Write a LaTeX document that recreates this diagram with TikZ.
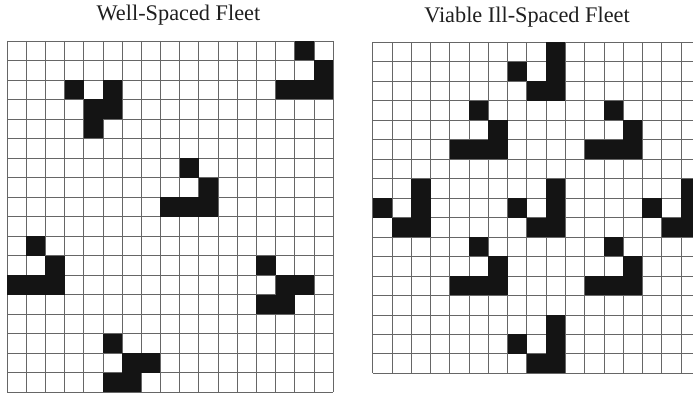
\documentclass[tikz,border=0pt]{standalone}
\usepackage{fontspec}
\setmainfont{Liberation Serif}
\begin{document}
\begin{tikzpicture}[x=1pt,y=-1pt,
  gridline/.style={draw=black!60,line width=0.75pt},
  cellfill/.style={fill=black!92},
  title/.style={font=\fontsize{22.3}{25}\selectfont, anchor=base, text=black!88, inner sep=0pt}]
\clip (0,0) rectangle (693,393);
\fill[white] (0,0) rectangle (693,393);
\node[title] (t1) at (178.5,21) {Well-Spaced Fleet};
\node[title] (t2) at (527,22.5) {Viable Ill-Spaced Fleet};
% left grid: 17 x 18
\begin{scope}[shift={(7,41)}, x=19.18pt, y=-19.5pt]
  \foreach \i in {0,...,17} \draw[gridline] (\i,0) -- (\i,18);
  \foreach \j in {0,...,18} \draw[gridline] (0,\j) -- (17,\j);
  \foreach \c/\r in {15/0,16/1,14/2,15/2,16/2,
                     3/2,5/2,4/3,5/3,4/4,
                     9/6,10/7,8/8,9/8,10/8,
                     1/10,2/11,0/12,1/12,2/12,
                     13/11,14/12,15/12,13/13,14/13,
                     5/15,6/16,7/16,5/17,6/17}
    \fill[cellfill] (\c,\r) rectangle ++(1,1);
\end{scope}
% right grid: 17 x 17 (cropped at right)
\begin{scope}[shift={(372.7,42.3)}, x=19.27pt, y=-19.47pt]
  \foreach \i in {0,...,17} \draw[gridline] (\i,0) -- (\i,17);
  \foreach \j in {0,...,17} \draw[gridline] (0,\j) -- (17,\j);
  \foreach \c/\r in {9/0,7/1,9/1,8/2,9/2,
                     5/3,6/4,4/5,5/5,6/5,
                     12/3,13/4,11/5,12/5,13/5,
                     2/7,0/8,2/8,1/9,2/9,
                     9/7,7/8,9/8,8/9,9/9,
                     16/7,14/8,16/8,15/9,16/9,
                     5/10,6/11,4/12,5/12,6/12,
                     12/10,13/11,11/12,12/12,13/12,
                     9/14,7/15,9/15,8/16,9/16}
    \fill[cellfill] (\c,\r) rectangle ++(1,1);
\end{scope}
\end{tikzpicture}
\end{document}
